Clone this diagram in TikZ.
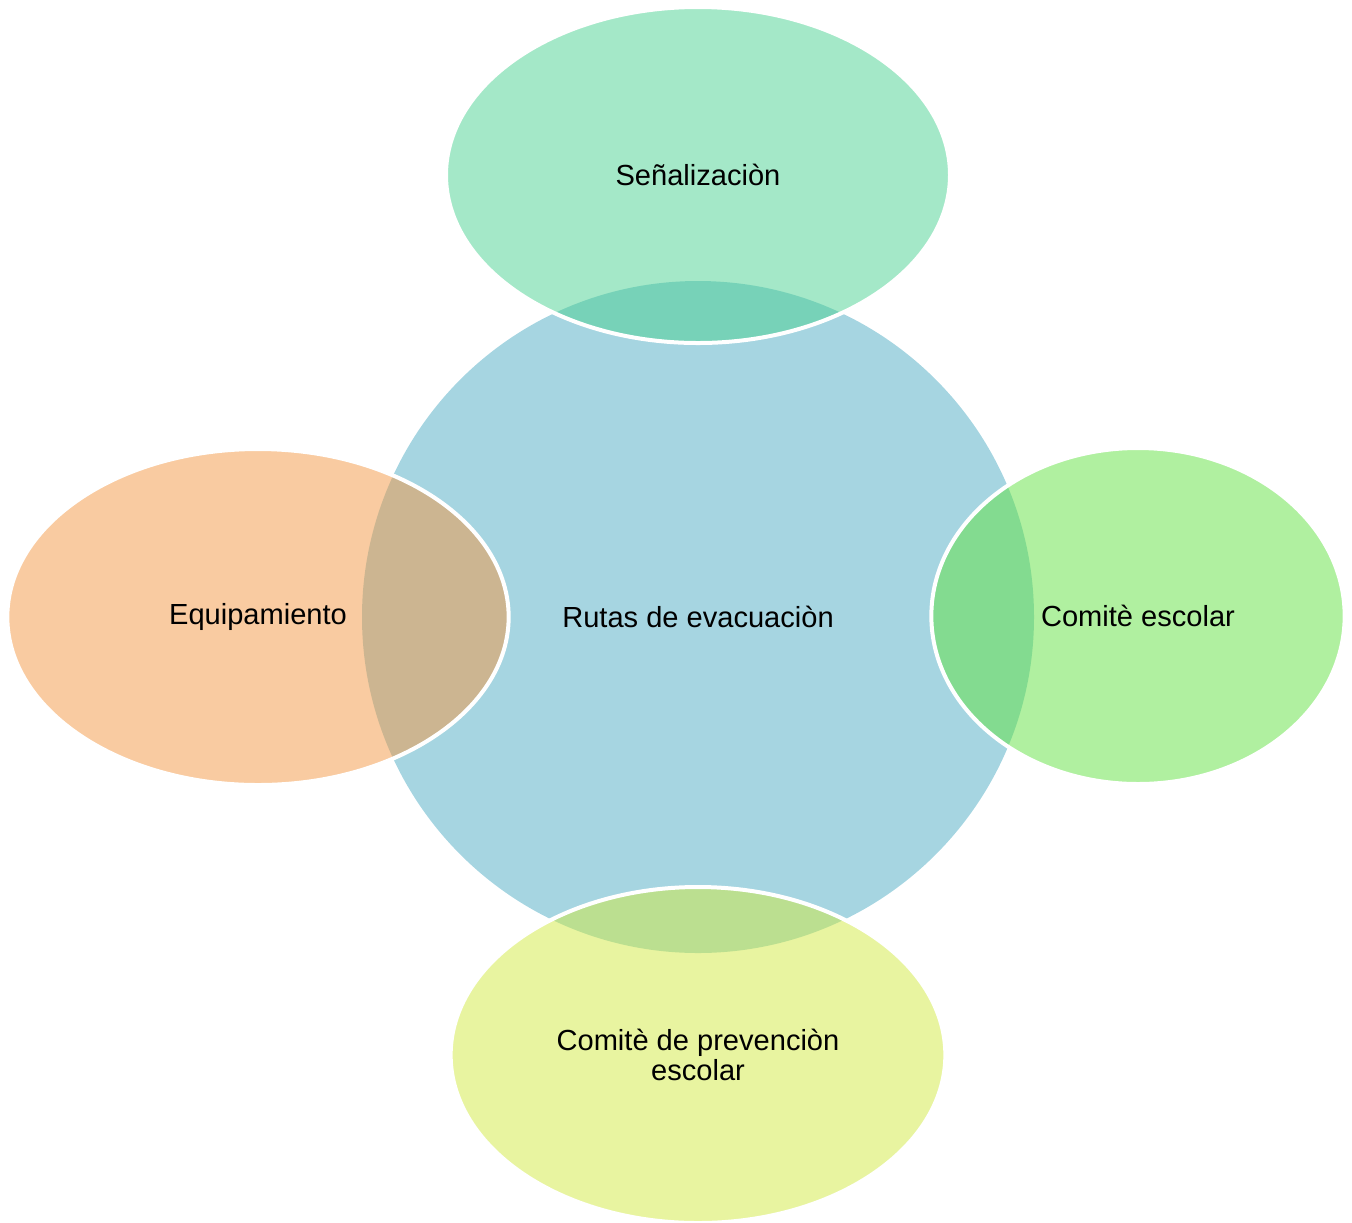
\documentclass[tikz,border=0pt]{standalone}
\usepackage{fontspec}
\setmainfont{Liberation Sans}
\usepackage{tikz}
\usetikzlibrary{shapes.geometric}
\definecolor{hubblue}{RGB}{166,213,225}
\definecolor{mint}{RGB}{73,209,145}
\definecolor{peach}{RGB}{243,151,67}
\definecolor{lime}{RGB}{97,225,65}
\definecolor{citron}{RGB}{209,233,65}

\begin{document}
\begin{tikzpicture}[x=0.75pt, y=-0.75pt,
            hub/.style={circle, fill=hubblue, minimum size=504pt, inner sep=0pt, align=center},
            blob/.style={ellipse, draw=white, line width=3pt, fill opacity=0.5, text opacity=1, inner sep=0pt, minimum height=252pt, align=center},
            every node/.style={font=\fontsize{21.8}{22.6}\selectfont}]

            \useasboundingbox (0,0) rectangle (1352,1222);

            \node[hub] (rutas) at (698,617) {Rutas de evacuaciòn};

            \node[blob, fill=mint, minimum width=378pt] (senal) at (698,175) {Señalizaciòn};
            \node[blob, fill=peach, minimum width=376pt] (equipo) at (258,617) {Equipamiento};
            \node[blob, fill=lime, minimum width=310pt] (comite) at (1138,616) {Comitè escolar};
            \node[blob, fill=citron, minimum width=371pt] (prevencion) at (698,1055) {Comitè de prevenciòn\\escolar};
        \end{tikzpicture}
\end{document}
